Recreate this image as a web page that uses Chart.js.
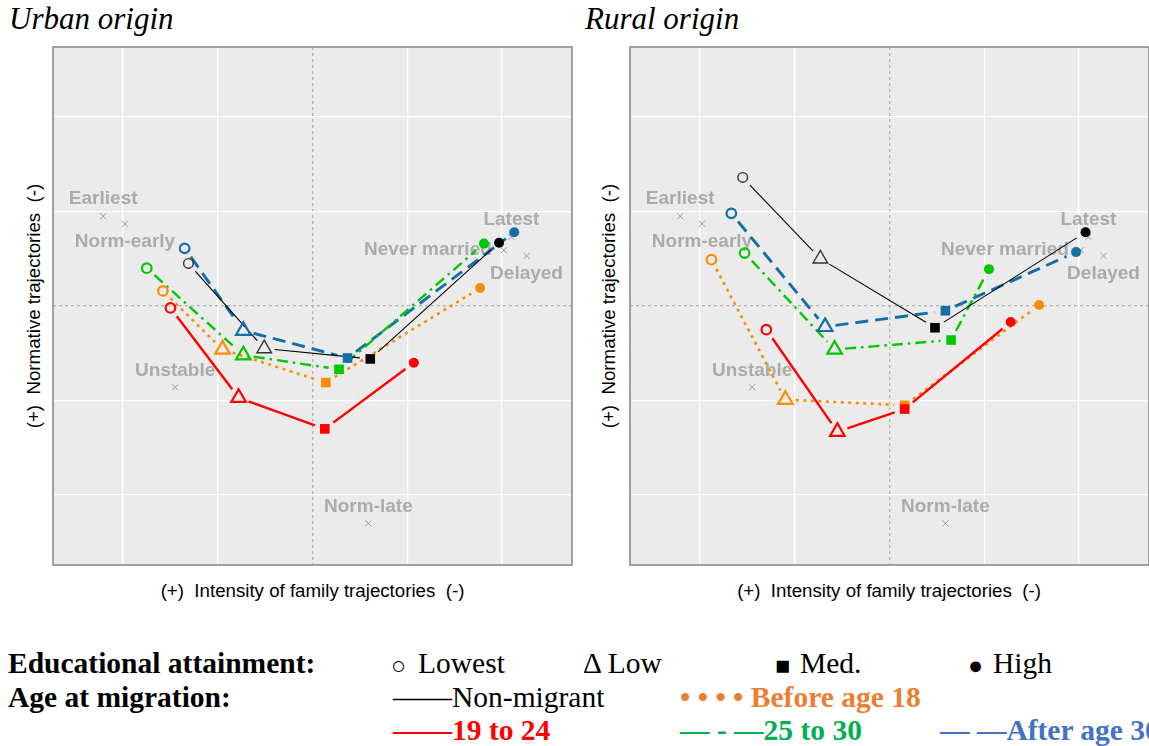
<!DOCTYPE html>
<html>
<head>
<meta charset="utf-8">
<script src="https://cdn.jsdelivr.net/npm/chart.js@4.4.1/dist/chart.umd.min.js"></script>
<style>
  html, body { margin: 0; padding: 0; background: #fff; overflow: hidden; }
  #page { position: relative; width: 1149px; height: 746px; overflow: hidden; }
  .t { position: absolute; white-space: pre; line-height: 1; }
  .title { font-family: "Liberation Serif", "Times New Roman", serif; font-style: italic; font-size: 31px; color: #000; }
  .axis { font-family: "Liberation Sans", Arial, sans-serif; font-size: 18.7px; color: #000; }
  .lg { font-family: "Liberation Serif", "Times New Roman", serif; font-size: 29.5px; color: #000; }
  .sym { font-family: "Liberation Serif", "DejaVu Serif", serif; font-size: 25px; color: #000; }
  .b { font-weight: bold; }
  .panel { position: absolute; }
</style>
</head>
<body>
<div id="page">
  <div class="t title" style="left:9px; top:3px;">Urban origin</div>
  <div class="t title" style="left:585px; top:3px;">Rural origin</div>

  <div class="panel" style="left:50px; top:44px; width:525px; height:524px;"><canvas id="urban"></canvas></div>
  <div class="panel" style="left:627px; top:44px; width:525px; height:524px;"><canvas id="rural"></canvas></div>

  <div class="t axis" style="left:312.5px; top:582px; transform:translateX(-50%);">(+)  Intensity of family trajectories  (-)</div>
  <div class="t axis" style="left:889px; top:582px; transform:translateX(-50%);">(+)  Intensity of family trajectories  (-)</div>
  <div class="t axis" style="left:34px; top:306px; transform:translate(-50%,-50%) rotate(-90deg);">(+)  Normative trajectories  (-)</div>
  <div class="t axis" style="left:609px; top:306px; transform:translate(-50%,-50%) rotate(-90deg);">(+)  Normative trajectories  (-)</div>

  <!-- legend -->
  <div class="t lg b" style="left:8px; top:649px;">Educational attainment:</div>
  <div class="t sym" style="left:391px; top:653px;">○</div>
  <div class="t lg" style="left:418px; top:649px;">Lowest</div>
  <div class="t lg" style="left:583px; top:649px;">Δ Low</div>
  <div class="t sym" style="left:775px; top:653px;">■</div>
  <div class="t lg" style="left:800px; top:649px;">Med.</div>
  <div class="t sym" style="left:968px; top:653px;">●</div>
  <div class="t lg" style="left:993px; top:649px;">High</div>

  <div class="t lg b" style="left:8px; top:683px;">Age at migration:</div>
  <div class="t lg" style="left:393px; top:683px;">——Non-migrant</div>
  <div class="t lg b" style="left:680px; top:683px; color:#ED7D31;">• • • • Before age 18</div>

  <div class="t lg b" style="left:393px; top:716px; color:#FF0000;">——19 to 24</div>
  <div class="t lg b" style="left:680px; top:716px; color:#00B050;">— - —25 to 30</div>
  <div class="t lg b" style="left:940px; top:716px; color:#4472C4;">— —After age 30</div>
</div>

<script>
// Education levels along each path: Lowest, Low, Med., High
const educationLevels = ['Lowest', 'Low', 'Med.', 'High'];

// Reference trajectory types (shared by both panels)
const refNames = ['Earliest', 'Norm-early', 'Unstable', 'Norm-late', 'Never married', 'Latest', 'Delayed'];
const refX = [-2.21, -1.98, -1.45, 0.59, 2.02, 2.10, 2.26];
const refY = [0.95, 0.87, -0.86, -2.30, 0.59, 0.73, 0.53];

// Urban origin
const urbanNonMigrantX = [-1.31, -0.51, 0.61, 1.97];
const urbanNonMigrantY = [0.45, -0.45, -0.56, 0.67];
const urbanBefore18X = [-1.58, -0.95, 0.14, 1.77];
const urbanBefore18Y = [0.16, -0.46, -0.81, 0.19];
const urban19to24X = [-1.50, -0.78, 0.13, 1.07];
const urban19to24Y = [-0.02, -0.97, -1.30, -0.60];
const urban25to30X = [-1.75, -0.73, 0.28, 1.81];
const urban25to30Y = [0.40, -0.52, -0.67, 0.66];
const urbanAfter30X = [-1.35, -0.73, 0.37, 2.13];
const urbanAfter30Y = [0.61, -0.26, -0.55, 0.78];

// Rural origin
const ruralNonMigrantX = [-1.55, -0.73, 0.48, 2.07];
const ruralNonMigrantY = [1.36, 0.50, -0.23, 0.78];
const ruralBefore18X = [-1.88, -1.10, 0.16, 1.58];
const ruralBefore18Y = [0.49, -0.99, -1.05, 0.01];
const rural19to24X = [-1.30, -0.55, 0.16, 1.28];
const rural19to24Y = [-0.25, -1.33, -1.09, -0.17];
const rural25to30X = [-1.53, -0.58, 0.65, 1.05];
const rural25to30Y = [0.56, -0.46, -0.36, 0.39];
const ruralAfter30X = [-1.67, -0.68, 0.59, 1.97];
const ruralAfter30Y = [0.98, -0.22, -0.05, 0.57];

// ---- styling ----
const AXIS_LIMIT = 2.74;
const PANEL_BG = '#EBEBEB';
const REF_GREY = '#ABABAB';
const GAP = 10.5; // space left open around each marker on the paths

const styles = {
  nonMigrant: { color: '#000000', hollow: '#333333', hollowWidth: 1.4, width: 1.1, dash: [] },
  before18:   { color: '#FF8C00', width: 2.6, dash: [3, 4.5] },
  age19to24:  { color: '#FF0000', width: 2.4, dash: [] },
  age25to30:  { color: '#00C800', width: 2.4, dash: [11, 5, 2.5, 5] },
  after30:    { color: '#156EA8', width: 2.9, dash: [13, 7] }
};
const refLabelSide = ['above', 'below', 'above', 'above', 'left', 'above', 'below'];

function toPoints(xs, ys) { return xs.map((x, i) => ({ x: x, y: ys[i] })); }

function seriesDataset(xs, ys, st, order) {
  const hollowColor = st.hollow || st.color;
  const hw = st.hollowWidth || 2.2;
  return {
    data: toPoints(xs, ys),
    showLine: false,
    order: order,
    pointStyle: ['circle', 'triangle', 'rect', 'circle'],
    pointRadius: [4.8, 8.4, 6.8, 5],
    pointBorderWidth: [hw, hw, 0, 0],
    pointBorderColor: [hollowColor, hollowColor, st.color, st.color],
    pointBackgroundColor: ['rgba(0,0,0,0)', 'rgba(0,0,0,0)', st.color, st.color]
  };
}

function makePanel(canvasId, series) {
  const datasets = series.map((s, i) => seriesDataset(s.x, s.y, s.style, series.length - i));
  datasets.push({
    data: toPoints(refX, refY),
    showLine: false,
    order: 100,
    pointStyle: 'crossRot',
    pointRadius: 4.3,
    pointBorderWidth: 1,
    pointBorderColor: '#9C9C9C',
    pointBackgroundColor: '#9C9C9C'
  });

  const panelPlugin = {
    id: 'panelDecor',
    beforeDraw(chart) {
      const a = chart.chartArea, ctx = chart.ctx;
      ctx.save();
      ctx.fillStyle = PANEL_BG;
      ctx.fillRect(a.left, a.top, a.width, a.height);
      ctx.restore();
    },
    beforeDatasetsDraw(chart) {
      const ctx = chart.ctx, xs = chart.scales.x, ys = chart.scales.y;
      const a = chart.chartArea;
      ctx.save();
      ctx.beginPath();
      ctx.rect(a.left, a.top, a.width, a.height);
      ctx.clip();
      // names of the reference trajectory types
      ctx.font = 'bold 19px "Liberation Sans", Arial, sans-serif';
      ctx.fillStyle = REF_GREY;
      refNames.forEach((name, i) => {
        const px = xs.getPixelForValue(refX[i]);
        const py = ys.getPixelForValue(refY[i]);
        const side = refLabelSide[i];
        ctx.textBaseline = 'middle';
        if (side === 'left') {
          ctx.textAlign = 'right';
          ctx.fillText(name, px - 12, py);
        } else {
          ctx.textAlign = 'center';
          ctx.fillText(name, px, side === 'above' ? py - 17 : py + 18);
        }
      });
      // paths joining the education levels, open around each marker
      ctx.lineCap = 'butt';
      series.forEach(s => {
        const st = s.style;
        const pts = s.x.map((x, i) => ({ x: xs.getPixelForValue(x), y: ys.getPixelForValue(s.y[i]) }));
        ctx.strokeStyle = st.color;
        ctx.lineWidth = st.width;
        ctx.setLineDash(st.dash);
        for (let i = 0; i < pts.length - 1; i++) {
          const p = pts[i], q = pts[i + 1];
          const dx = q.x - p.x, dy = q.y - p.y, len = Math.hypot(dx, dy);
          if (len <= 2 * GAP) continue;
          const ux = dx / len, uy = dy / len;
          ctx.beginPath();
          ctx.moveTo(p.x + ux * GAP, p.y + uy * GAP);
          ctx.lineTo(q.x - ux * GAP, q.y - uy * GAP);
          ctx.stroke();
        }
      });
      ctx.restore();
    },
    afterDraw(chart) {
      const a = chart.chartArea, ctx = chart.ctx;
      ctx.save();
      ctx.strokeStyle = '#8A8A8A';
      ctx.lineWidth = 1.6;
      ctx.strokeRect(a.left, a.top, a.width, a.height);
      ctx.restore();
    }
  };

  const gridAxis = (isX) => ({
    type: 'linear',
    min: -AXIS_LIMIT,
    max: AXIS_LIMIT,
    afterFit(scale) { if (isX) scale.height = 0; else scale.width = 0; },
    ticks: { display: false, stepSize: 1 },
    grid: {
      drawTicks: false,
      color: ctx => (ctx.tick && ctx.tick.value === 0) ? '#B4B4B4' : '#FFFFFF',
      lineWidth: 1.3
    },
    border: {
      display: false,
      dash: ctx => (ctx.tick && ctx.tick.value === 0) ? [3, 3] : []
    }
  });

  return new Chart(document.getElementById(canvasId), {
    type: 'scatter',
    data: { datasets: datasets },
    options: {
      responsive: true,
      maintainAspectRatio: false,
      animation: false,
      events: [],
      layout: { padding: 3, autoPadding: false },
      plugins: { legend: { display: false }, tooltip: { enabled: false } },
      scales: { x: gridAxis(true), y: gridAxis(false) }
    },
    plugins: [panelPlugin]
  });
}

makePanel('urban', [
  { x: urbanAfter30X, y: urbanAfter30Y, style: styles.after30 },
  { x: urban25to30X, y: urban25to30Y, style: styles.age25to30 },
  { x: urbanBefore18X, y: urbanBefore18Y, style: styles.before18 },
  { x: urban19to24X, y: urban19to24Y, style: styles.age19to24 },
  { x: urbanNonMigrantX, y: urbanNonMigrantY, style: styles.nonMigrant }
]);

makePanel('rural', [
  { x: ruralAfter30X, y: ruralAfter30Y, style: styles.after30 },
  { x: rural25to30X, y: rural25to30Y, style: styles.age25to30 },
  { x: ruralBefore18X, y: ruralBefore18Y, style: styles.before18 },
  { x: rural19to24X, y: rural19to24Y, style: styles.age19to24 },
  { x: ruralNonMigrantX, y: ruralNonMigrantY, style: styles.nonMigrant }
]);
</script>
</body>
</html>
